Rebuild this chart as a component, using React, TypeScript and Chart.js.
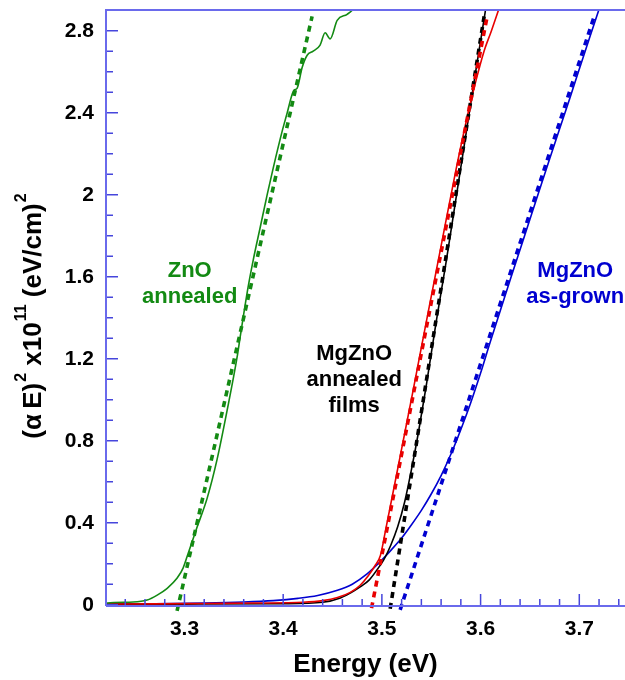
import React, { useEffect, useRef } from 'react';
import { Chart, registerables } from 'chart.js';

Chart.register(...registerables);

const FONT = '"Liberation Sans", Arial, Helvetica, sans-serif';

// Axis ranges
const X_MIN = 3.2205;
const X_MAX = 3.7463;
const Y_MIN = -0.0063;
const Y_MAX = 2.901;
const X_STEP = 0.1;
const X_MINOR = 0.02;
const Y_STEP = 0.4;
const Y_MINOR = 0.1;

// ZnO annealed (green)
const znoE = [3.2207, 3.2217, 3.248, 3.2622, 3.2724, 3.2825, 3.2926, 3.2987, 3.3037, 3.3129, 3.323, 3.3331, 3.3433, 3.3534, 3.3564, 3.3645, 3.3696, 3.3767, 3.3838, 3.3899, 3.399, 3.4041, 3.4091, 3.4111, 3.4142, 3.4192, 3.4243, 3.4304, 3.4374, 3.4425, 3.4476, 3.4547, 3.4648, 3.4699, 3.4729];
const znoV = [0.006, 0.008, 0.013, 0.023, 0.047, 0.08, 0.13, 0.18, 0.25, 0.38, 0.52, 0.71, 0.95, 1.21, 1.305, 1.55, 1.68, 1.84, 2.0, 2.13, 2.31, 2.4, 2.49, 2.51, 2.52, 2.62, 2.68, 2.7, 2.73, 2.79, 2.76, 2.85, 2.88, 2.9, 2.92];

// MgZnO annealed, red
const redE = [3.2207, 3.27, 3.32, 3.37, 3.42, 3.44, 3.455, 3.468, 3.478, 3.486, 3.493, 3.4985, 3.504, 3.511, 3.52, 3.531, 3.545, 3.56, 3.575, 3.5874, 3.5955, 3.6035, 3.611, 3.6188];
const redV = [0.003, 0.004, 0.006, 0.008, 0.012, 0.02, 0.035, 0.06, 0.095, 0.14, 0.19, 0.24, 0.37, 0.54, 0.76, 1.03, 1.38, 1.75, 2.12, 2.4, 2.56, 2.7, 2.8, 2.91];

// MgZnO annealed, black
const blackE = [3.2207, 3.3, 3.4, 3.44, 3.458, 3.468, 3.478, 3.487, 3.495, 3.502, 3.509, 3.516, 3.523, 3.53, 3.537, 3.545, 3.555, 3.565, 3.575, 3.585, 3.594, 3.6, 3.6046, 3.6056];
const blackV = [0.002, 0.003, 0.005, 0.012, 0.033, 0.057, 0.087, 0.12, 0.17, 0.22, 0.29, 0.38, 0.5, 0.66, 0.84, 1.07, 1.38, 1.67, 1.98, 2.29, 2.57, 2.75, 2.89, 2.92];

// MgZnO as-grown, blue
const blueE = [3.2207, 3.27, 3.32, 3.36, 3.39, 3.415, 3.435, 3.455, 3.47, 3.485, 3.4983, 3.51, 3.52, 3.53, 3.54, 3.55, 3.56, 3.57, 3.58, 3.59, 3.6, 3.61, 3.63, 3.65, 3.67, 3.69, 3.71, 3.7225];
const blueV = [0.004, 0.005, 0.008, 0.013, 0.02, 0.031, 0.045, 0.07, 0.1, 0.15, 0.21, 0.27, 0.325, 0.39, 0.46, 0.54, 0.63, 0.735, 0.855, 0.985, 1.13, 1.285, 1.585, 1.88, 2.175, 2.465, 2.76, 2.94];

// Linear fits (dotted), endpoints [E, value]
const znoFitE = [3.2925, 3.4293];
const znoFitV = [-0.03, 2.87];
const redFitE = [3.4895, 3.6067];
const redFitV = [-0.017, 2.87];
const blackFitE = [3.5084, 3.6036];
const blackFitV = [-0.02, 2.87];
const blueFitE = [3.5185, 3.7151];
const blueFitV = [-0.025, 2.87];

const GREEN = '#138a13';
const RED = '#e80000';
const BLACK = '#000000';
const BLUE = '#0000d0';
const AXIS_COLOR = '#6a6aec';
const TICK_COLOR = '#4646dc';

// Annotation labels (data coordinates of first-line baseline centre)
const labelLines = [
  ['ZnO', 'annealed'],
  ['MgZnO', 'annealed', 'films'],
  ['MgZnO', 'as-grown'],
];
const labelE = [3.3053, 3.4719, 3.6959];
const labelV = [1.598, 1.194, 1.598];
const labelColors = [GREEN, BLACK, BLUE];

const pts = (xs: number[], ys: number[]) => xs.map((x, i) => ({ x, y: ys[i] }));

const solid = (label: string, xs: number[], ys: number[], color: string) => ({
  label,
  data: pts(xs, ys),
  showLine: true,
  borderColor: color,
  backgroundColor: color,
  borderWidth: 1.6,
  pointRadius: 0,
  cubicInterpolationMode: 'monotone' as const,
});

const dotted = (label: string, xs: number[], ys: number[], color: string) => ({
  label,
  data: pts(xs, ys),
  showLine: true,
  borderColor: color,
  backgroundColor: color,
  borderWidth: 3.6,
  borderDash: [6, 5],
  pointRadius: 0,
  clip: false as const,
});

const framePlugin = {
  id: 'frame',
  afterDatasetsDraw(chart: any) {
    const { ctx, chartArea: a, scales } = chart;
    const x = scales.x;
    const y = scales.y;
    ctx.save();
    // ticks
    ctx.strokeStyle = TICK_COLOR;
    ctx.lineWidth = 1.5;
    ctx.beginPath();
    for (let i = 0; i * Y_MINOR <= Y_MAX + 1e-9; i++) {
      const v = i * Y_MINOR;
      const py = y.getPixelForValue(v);
      const len = i % Math.round(Y_STEP / Y_MINOR) === 0 ? 12 : 7;
      ctx.moveTo(a.left, py);
      ctx.lineTo(a.left + len, py);
    }
    const start = Math.ceil(X_MIN / X_MINOR - 1e-9);
    for (let k = start; k * X_MINOR <= X_MAX + 1e-9; k++) {
      const v = k * X_MINOR;
      const px = x.getPixelForValue(v);
      const len = k % Math.round(X_STEP / X_MINOR) === 0 ? 12 : 7;
      ctx.moveTo(px, a.bottom);
      ctx.lineTo(px, a.bottom - len);
    }
    ctx.stroke();
    // frame
    ctx.strokeStyle = AXIS_COLOR;
    ctx.lineWidth = 2;
    ctx.beginPath();
    ctx.moveTo(a.left, a.bottom);
    ctx.lineTo(a.left, a.top);
    ctx.lineTo(a.right, a.top);
    ctx.moveTo(a.left, a.bottom);
    ctx.lineTo(a.right, a.bottom);
    ctx.stroke();
    ctx.restore();
  },
  afterDraw(chart: any) {
    const { ctx, scales } = chart;
    const x = scales.x;
    const y = scales.y;
    ctx.save();
    // annotations
    ctx.font = `bold 22px ${FONT}`;
    ctx.textAlign = 'center';
    ctx.textBaseline = 'alphabetic';
    labelLines.forEach((lines, i) => {
      const px = x.getPixelForValue(labelE[i]);
      const py = y.getPixelForValue(labelV[i]);
      ctx.fillStyle = labelColors[i];
      lines.forEach((t, j) => ctx.fillText(t, px, py + j * 26));
    });
    // y-axis title with superscripts
    const parts: [string, boolean][] = [
      ['(\u03B1\u2009E)', false],
      ['2', true],
      [' x10', false],
      ['11', true],
      [' (eV/cm)', false],
      ['2', true],
    ];
    const mainFont = `bold 26px ${FONT}`;
    const supFont = `bold 16px ${FONT}`;
    let total = 0;
    const widths = parts.map(([t, sup]) => {
      ctx.font = sup ? supFont : mainFont;
      const w = ctx.measureText(t).width + (sup ? 1 : 0);
      total += w;
      return w;
    });
    ctx.translate(41, 316);
    ctx.rotate(-Math.PI / 2);
    ctx.fillStyle = '#000';
    ctx.textAlign = 'left';
    let cx = -total / 2;
    parts.forEach(([t, sup], i) => {
      ctx.font = sup ? supFont : mainFont;
      ctx.fillText(t, cx + (sup ? 1 : 0), sup ? -15 : 0);
      cx += widths[i];
    });
    ctx.restore();
  },
};

export default function App() {
  const ref = useRef<HTMLCanvasElement | null>(null);

  useEffect(() => {
    if (!ref.current) return;
    const chart = new Chart(ref.current, {
      type: 'scatter',
      data: {
        datasets: [
          dotted('ZnO fit', znoFitE, znoFitV, GREEN),
          dotted('red fit', redFitE, redFitV, RED),
          dotted('black fit', blackFitE, blackFitV, BLACK),
          dotted('blue fit', blueFitE, blueFitV, BLUE),
          solid('ZnO annealed', znoE, znoV, GREEN),
          solid('MgZnO annealed (red)', redE, redV, RED),
          solid('MgZnO annealed (black)', blackE, blackV, BLACK),
          solid('MgZnO as-grown', blueE, blueV, BLUE),
        ] as any,
      },
      options: {
        responsive: false,
        animation: false,
        devicePixelRatio: 1,
        layout: { padding: { top: 10, right: 0, left: 0, bottom: 0 } },
        plugins: {
          legend: { display: false },
          tooltip: { enabled: false },
        },
        scales: {
          x: {
            type: 'linear',
            min: X_MIN,
            max: X_MAX,
            afterFit: (s: any) => { s.height = 74; s.paddingLeft = 0; s.paddingRight = 0; },
            grid: { display: false, drawTicks: false, tickLength: 0 },
            border: { display: false },
            ticks: {
              stepSize: X_STEP,
              includeBounds: false,
              color: '#000',
              padding: 11,
              maxRotation: 0,
              font: { family: FONT, size: 21, weight: 'bold' },
              callback: (v: any) => Number(v).toFixed(1),
            },
            title: {
              display: true,
              text: 'Energy (eV)',
              color: '#000',
              font: { family: FONT, size: 26, weight: 'bold' },
              padding: { top: 0, bottom: 0 },
            },
          },
          y: {
            type: 'linear',
            min: Y_MIN,
            max: Y_MAX,
            afterFit: (s: any) => { s.width = 106; s.paddingTop = 0; s.paddingBottom = 0; },
            grid: { display: false, drawTicks: false, tickLength: 0 },
            border: { display: false },
            ticks: {
              stepSize: Y_STEP,
              includeBounds: false,
              color: '#000',
              padding: 12,
              font: { family: FONT, size: 21, weight: 'bold' },
              callback: (v: any) => String(Number(Number(v).toFixed(1))),
            },
          },
        },
      } as any,
      plugins: [framePlugin],
    });
    return () => chart.destroy();
  }, []);

  return (
    <div style={{ position: 'absolute', left: 0, top: 0, width: 625, height: 680, background: '#fff' }}>
      <canvas ref={ref} width={625} height={680} style={{ display: 'block' }} />
    </div>
  );
}
